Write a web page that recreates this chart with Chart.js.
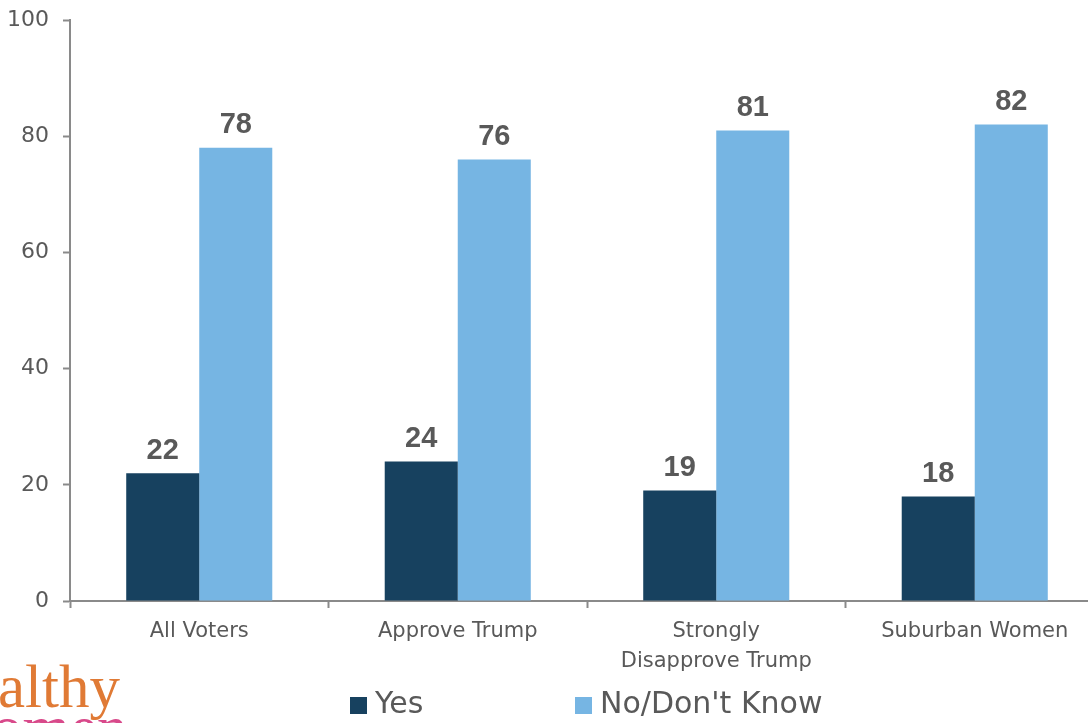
<!DOCTYPE html>
<html>
<head>
<meta charset="utf-8">
<script src="https://cdn.jsdelivr.net/npm/chart.js@4.4.1/dist/chart.umd.min.js"></script>
<style>
  html, body { margin: 0; padding: 0; background: #fff; overflow: hidden; }
  #wrap { width: 1088px; height: 723px; overflow: hidden; position: relative; }
  canvas { display: block; }
</style>
</head>
<body>
<div id="wrap"><canvas id="chart" width="1104" height="723"></canvas></div>
<script>
// Chart data
const categories = ['All Voters', 'Approve Trump', ['Strongly', 'Disapprove Trump'], 'Suburban Women'];
const yesValues = [22, 24, 19, 18];
const noValues = [78, 76, 81, 82];
const seriesNames = ['Yes', "No/Don't Know"];
const yTicks = [0, 20, 40, 60, 80, 100];

const colors = { yes: '#17415F', no: '#76B5E3', axis: '#8A8A8A', text: '#595959' };
const textFont = "'DejaVu Sans', sans-serif";

// Value labels above each bar
const valueLabels = {
  id: 'valueLabels',
  afterDatasetsDraw(chart) {
    const ctx = chart.ctx;
    ctx.save();
    ctx.font = "bold 29px 'Liberation Sans', Arial, sans-serif";
    ctx.fillStyle = colors.text;
    ctx.textAlign = 'center';
    ctx.textBaseline = 'bottom';
    chart.data.datasets.forEach((ds, i) => {
      chart.getDatasetMeta(i).data.forEach((bar, j) => {
        ctx.fillText(ds.data[j], bar.x, bar.y - 8);
      });
    });
    ctx.restore();
  }
};

// Legend + partial logo at the bottom
const bottomDecor = {
  id: 'bottomDecor',
  afterDraw(chart) {
    const ctx = chart.ctx;
    ctx.save();
    const items = [
      { x: 350, color: colors.yes, label: seriesNames[0] },
      { x: 575, color: colors.no, label: seriesNames[1] }
    ];
    ctx.font = "30px " + textFont;
    ctx.textBaseline = 'middle';
    items.forEach(it => {
      ctx.fillStyle = it.color;
      ctx.fillRect(it.x, 697, 17, 17);
      ctx.fillStyle = colors.text;
      ctx.fillText(it.label, it.x + 25, 705);
    });

    // logo fragment
    ctx.font = "61px 'Liberation Serif', 'DejaVu Serif', serif";
    ctx.textBaseline = 'alphabetic';
    ctx.fillStyle = '#E07A35';
    ctx.fillText('althy', -2, 707);
    ctx.fillStyle = '#D8498A';
    ctx.fillText('omen', -8, 748);
    ctx.restore();
  }
};

new Chart(document.getElementById('chart'), {
  type: 'bar',
  data: {
    labels: categories,
    datasets: [
      { label: seriesNames[0], data: yesValues, backgroundColor: colors.yes },
      { label: seriesNames[1], data: noValues, backgroundColor: colors.no }
    ]
  },
  options: {
    responsive: false,
    animation: false,
    layout: { padding: { top: 20, left: 0, right: 0, bottom: 0 } },
    datasets: { bar: { categoryPercentage: 0.565, barPercentage: 1.0 } },
    plugins: {
      legend: { display: false },
      tooltip: { enabled: false }
    },
    scales: {
      x: {
        offset: true,
        grid: {
          offset: true,
          drawOnChartArea: false,
          drawTicks: true,
          tickLength: 7,
          tickWidth: 2,
          color: colors.axis
        },
        border: { color: colors.axis, width: 2 },
        ticks: {
          color: colors.text,
          font: { family: textFont, size: 21, lineHeight: 1.4 },
          padding: 9,
          maxRotation: 0,
          autoSkip: false
        },
        afterFit(scale) { scale.height = 122; }
      },
      y: {
        min: 0,
        max: 100,
        afterBuildTicks(scale) { scale.ticks = yTicks.map(v => ({ value: v })); },
        grid: {
          drawOnChartArea: false,
          drawTicks: true,
          tickLength: 7,
          tickWidth: 2,
          color: colors.axis
        },
        border: { color: colors.axis, width: 2 },
        ticks: {
          color: colors.text,
          font: { family: textFont, size: 22 },
          padding: 14
        },
        afterFit(scale) {
          scale.width = 70;
          scale.paddingTop = 0;
          scale.paddingBottom = 0;
        }
      }
    }
  },
  plugins: [valueLabels, bottomDecor]
});
</script>
</body>
</html>
